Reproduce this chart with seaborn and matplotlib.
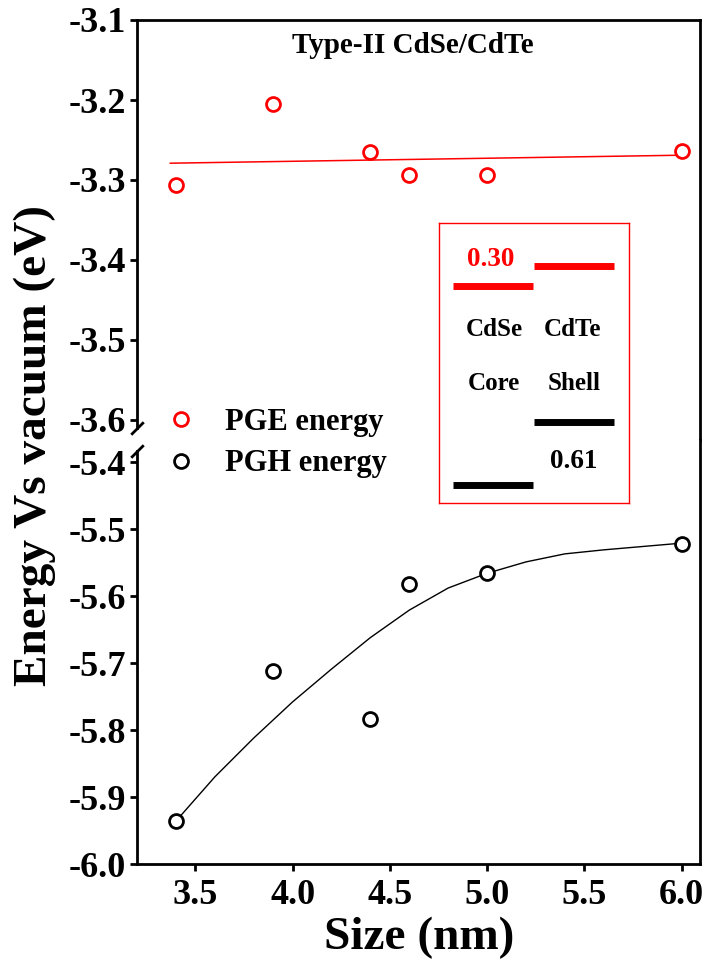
import numpy as np
import pandas as pd
import matplotlib
matplotlib.use("Agg")
import matplotlib.pyplot as plt
from matplotlib.lines import Line2D
import seaborn as sns

# ---- data -------------------------------------------------------------
size_nm = [3.4, 3.9, 4.4, 4.6, 5.0, 6.0]
pge_energy = [-3.306, -3.205, -3.265, -3.294, -3.294, -3.264]
pgh_energy = [-5.936, -5.712, -5.784, -5.582, -5.566, -5.522]

# fitted trend for the electron levels (straight line)
pge_fit_x = [3.37, 6.0]
pge_fit_y = [-3.279, -3.269]

# fitted trend for the hole levels (smooth growth curve)
pgh_fit_x = [3.4, 3.6, 3.8, 4.0, 4.2, 4.4, 4.6, 4.8, 5.0, 5.2, 5.4, 5.6, 5.8, 6.0]
pgh_fit_y = [-5.936, -5.870, -5.812, -5.758, -5.709, -5.662, -5.621, -5.588,
             -5.566, -5.549, -5.537, -5.531, -5.526, -5.521]

x_ticks = [3.5, 4.0, 4.5, 5.0, 5.5, 6.0]
top_ticks = [-3.6, -3.5, -3.4, -3.3, -3.2, -3.1]
bottom_ticks = [-6.0, -5.9, -5.8, -5.7, -5.6, -5.5, -5.4]

# band-alignment sketch (schematic levels, inset units)
core_levels = {"cb": 0.775, "vb": 0.064}
shell_levels = {"cb": 0.846, "vb": 0.289}
cb_offset = "0.30"
vb_offset = "0.61"

RED = "#ff0000"
BLACK = "#000000"

sns.set_theme(style="ticks")
plt.rcParams["font.family"] = ["Liberation Serif", "DejaVu Serif"]
plt.rcParams["font.weight"] = "bold"
plt.rcParams["axes.unicode_minus"] = False
plt.rcParams["text.color"] = BLACK
plt.rcParams["axes.labelcolor"] = BLACK
plt.rcParams["xtick.color"] = BLACK
plt.rcParams["ytick.color"] = BLACK

W, H = 705, 964
fig = plt.figure(figsize=(W / 100, H / 100), dpi=100)

left, right = 137 / W, 700 / W
y_top, y_mid, y_bot = 1 - 20 / H, 1 - 440 / H, 1 - 864 / H
ax_top = fig.add_axes([left, y_mid, right - left, y_top - y_mid])
ax_bot = fig.add_axes([left, y_bot, right - left, y_mid - y_bot])

pge = pd.DataFrame({"size": size_nm, "energy": pge_energy})
pgh = pd.DataFrame({"size": size_nm, "energy": pgh_energy})
pge_fit = pd.DataFrame({"size": pge_fit_x, "energy": pge_fit_y})
pgh_fit = pd.DataFrame({"size": pgh_fit_x, "energy": pgh_fit_y})

sns.lineplot(data=pge_fit, x="size", y="energy", ax=ax_top, color=RED,
             linewidth=1.1, zorder=2, sort=False)
sns.scatterplot(data=pge, x="size", y="energy", ax=ax_top, s=100,
                facecolor="white", edgecolor=RED, linewidth=2, zorder=3)

sns.lineplot(data=pgh_fit, x="size", y="energy", ax=ax_bot, color=BLACK,
             linewidth=1.0, zorder=2, sort=False)
sns.scatterplot(data=pgh, x="size", y="energy", ax=ax_bot, s=100,
                facecolor="white", edgecolor=BLACK, linewidth=2, zorder=3)

xlim = (3.2, 6.095)
top_lim = (-3.625, -3.1)
bot_lim = (-6.0, -5.367)
TICK_FS = 26
for ax in (ax_top, ax_bot):
    ax.set_xlim(*xlim)
    ax.set_xlabel("")
    ax.set_ylabel("")
    for sp in ax.spines.values():
        sp.set_linewidth(2)
        sp.set_color(BLACK)
    ax.tick_params(axis="both", which="both", direction="out", length=5,
                   width=2, color=BLACK, labelcolor=BLACK,
                   labelsize=TICK_FS, pad=3)

ax_top.set_ylim(*top_lim)
ax_top.set_yticks(top_ticks)
ax_top.set_yticklabels([f"{v:.1f}" for v in top_ticks])
ax_top.spines["bottom"].set_visible(False)
ax_top.set_xticks([])
ax_top.spines["left"].set_bounds(-3.61, -3.1)

ax_bot.set_ylim(*bot_lim)
ax_bot.set_yticks(bottom_ticks)
ax_bot.set_yticklabels([f"{v:.1f}" for v in bottom_ticks])
ax_bot.spines["top"].set_visible(False)
ax_bot.set_xticks(x_ticks)
ax_bot.set_xticklabels([f"{v:.1f}" for v in x_ticks])
ax_bot.spines["left"].set_bounds(-6.0, -5.384)
ax_bot.tick_params(axis="x", pad=6)

for lab in ax_top.get_yticklabels() + ax_bot.get_yticklabels() + ax_bot.get_xticklabels():
    lab.set_fontweight("bold")

# break marks on the left spine
brk = dict(marker=[(-1, -1), (1, 1)], markersize=9, linestyle="none",
           color=BLACK, mec=BLACK, mew=2, clip_on=False)
ax_top.plot([0], [-3.61], transform=ax_top.get_yaxis_transform(), **brk)
ax_bot.plot([0], [-5.384], transform=ax_bot.get_yaxis_transform(), **brk)

# title inside the frame
ax_top.text(0.49, 0.94, "Type-II CdSe/CdTe", transform=ax_top.transAxes,
            ha="center", va="center", fontsize=21, fontweight="bold", color=BLACK)

# axis labels
fig.text(35 / W, 1 - 446 / H, "Energy Vs vacuum (eV)", rotation=90,
         ha="center", va="center", fontsize=34, fontweight="bold")
fig.text(419 / W, 1 - 938 / H, "Size (nm)", ha="center", va="center",
         fontsize=34, fontweight="bold")

# legend
handles = [
    Line2D([], [], linestyle="none", marker="o", markersize=10,
           markerfacecolor="white", markeredgecolor=RED, markeredgewidth=2),
    Line2D([], [], linestyle="none", marker="o", markersize=10,
           markerfacecolor="white", markeredgecolor=BLACK, markeredgewidth=2),
]
fig.legend(handles, ["PGE energy", "PGH energy"], loc="center left",
           bbox_to_anchor=(150 / W, 1 - 443 / H), frameon=False,
           prop={"size": 22, "weight": "bold"}, handlelength=1.0,
           handletextpad=0.95, labelspacing=0.42, borderpad=0)

# band alignment inset
ax_in = fig.add_axes([439 / W, 1 - 503 / H, 190 / W, 280 / H])
ax_in.set_xlim(0, 1)
ax_in.set_ylim(0, 1)
ax_in.set_xticks([])
ax_in.set_yticks([])
ax_in.set_facecolor("white")
for sp in ax_in.spines.values():
    sp.set_color(RED)
    sp.set_linewidth(1.0)

core_x = (0.074, 0.495)
shell_x = (0.5, 0.921)
ax_in.hlines(core_levels["cb"], *core_x, color=RED, linewidth=5)
ax_in.hlines(shell_levels["cb"], *shell_x, color=RED, linewidth=5)
ax_in.hlines(core_levels["vb"], *core_x, color=BLACK, linewidth=5)
ax_in.hlines(shell_levels["vb"], *shell_x, color=BLACK, linewidth=5)

txt = dict(ha="center", va="center", fontweight="bold")
ax_in.text(0.272, 0.868, cb_offset, color=RED, fontsize=19.5, **txt)
ax_in.text(0.289, 0.618, "CdSe", color=BLACK, fontsize=18, **txt)
ax_in.text(0.704, 0.618, "CdTe", color=BLACK, fontsize=18, **txt)
ax_in.text(0.289, 0.4275, "Core", color=BLACK, fontsize=18, **txt)
ax_in.text(0.712, 0.4275, "Shell", color=BLACK, fontsize=18, **txt)
ax_in.text(0.707, 0.1475, vb_offset, color=BLACK, fontsize=19.5, **txt)

fig.savefig("out.png", dpi=100)
